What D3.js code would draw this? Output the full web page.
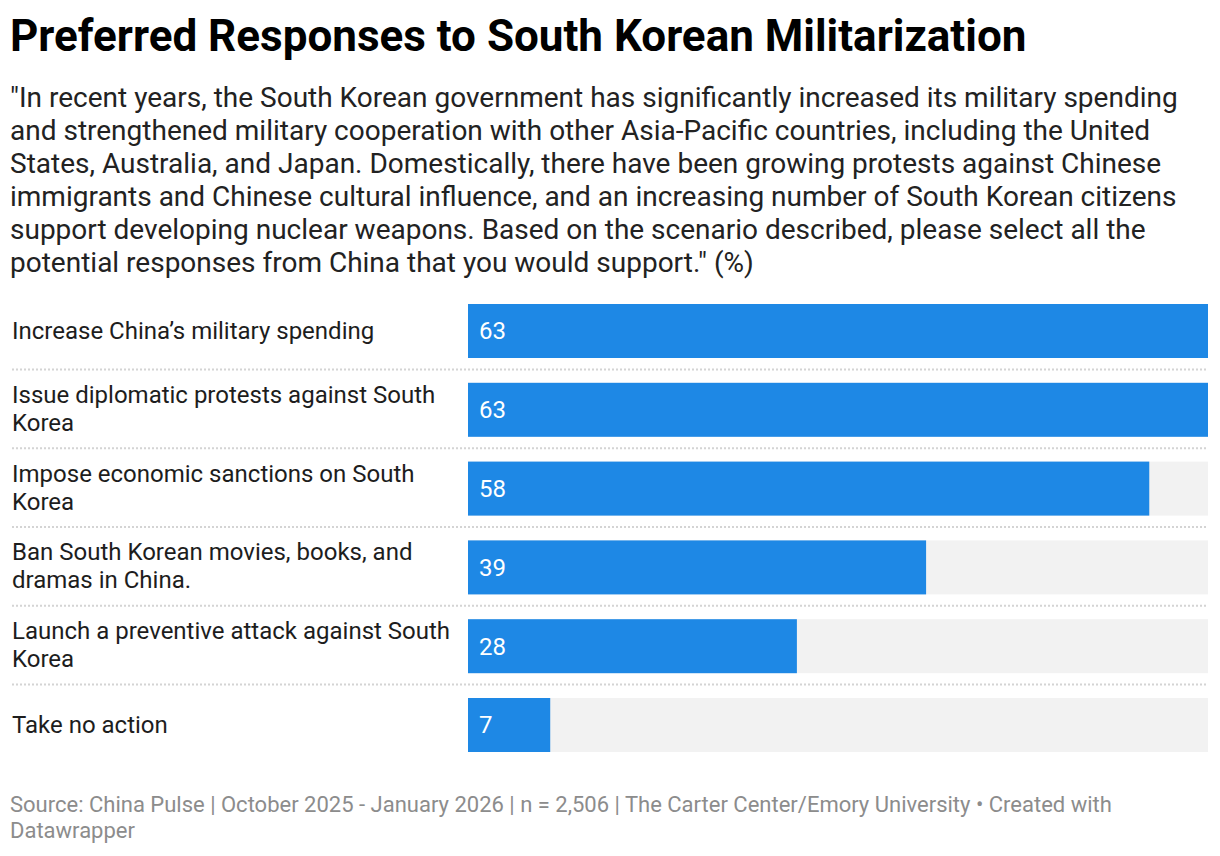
<!DOCTYPE html>
<html>
<head>
<meta charset="utf-8">
<script src="https://cdn.jsdelivr.net/npm/d3@7"></script>
<style>
  html, body { margin: 0; padding: 0; background: #fff; }
  svg { display: block; font-family: Roboto, "Noto Sans", sans-serif; }
</style>
</head>
<body>
<svg id="chart" width="1220" height="856"></svg>
<script>
const titleText = "Preferred Responses to South Korean Militarization";
const subtitleLines = [
  "\"In recent years, the South Korean government has significantly increased its military spending",
  "and strengthened military cooperation with other Asia-Pacific countries, including the United",
  "States, Australia, and Japan. Domestically, there have been growing protests against Chinese",
  "immigrants and Chinese cultural influence, and an increasing number of South Korean citizens",
  "support developing nuclear weapons. Based on the scenario described, please select all the",
  "potential responses from China that you would support.\" (%)"
];
const categories = [
  "Increase China\u2019s military spending",
  "Issue diplomatic protests against South Korea",
  "Impose economic sanctions on South Korea",
  "Ban South Korean movies, books, and dramas in China.",
  "Launch a preventive attack against South Korea",
  "Take no action"
];
const values = [63, 63, 58, 39, 28, 7];
const footerLines = [
  "Source: China Pulse | October 2025 - January 2026 | n = 2,506 | The Carter Center/Emory University \u2022 Created with",
  "Datawrapper"
];

const svg = d3.select("#chart");

svg.append("text")
  .attr("x", 10).attr("y", 51)
  .attr("font-size", 44).attr("font-weight", 700).attr("fill", "#000")
  .text(titleText);

svg.append("g").selectAll("text").data(subtitleLines).join("text")
  .attr("x", 10).attr("y", (d, i) => 107 + i * 33)
  .attr("font-size", 28).attr("fill", "#222")
  .text(d => d);

const x = d3.scaleLinear().domain([0, d3.max(values)]).range([468, 1208]);
const y = d3.scaleBand().domain(categories).range([304, 752]).paddingInner(0.3147).paddingOuter(0);

const rows = svg.append("g").selectAll("g").data(categories).join("g");

rows.append("rect")
  .attr("x", x(0)).attr("y", d => y(d))
  .attr("width", x.range()[1] - x(0)).attr("height", y.bandwidth())
  .attr("fill", "#f2f2f2");

rows.append("rect")
  .attr("x", x(0)).attr("y", d => y(d))
  .attr("width", (d, i) => x(values[i]) - x(0)).attr("height", y.bandwidth())
  .attr("fill", "#1e88e5");

rows.append("text")
  .attr("x", x(0) + 11).attr("y", d => y(d) + y.bandwidth() / 2)
  .attr("dy", "0.35em")
  .attr("font-size", 24).attr("fill", "#fff")
  .text((d, i) => values[i]);

const step = y.step();
svg.append("g").selectAll("line").data(categories.slice(0, -1)).join("line")
  .attr("x1", 12).attr("x2", 1208)
  .attr("y1", d => y(d) + y.bandwidth() + (step - y.bandwidth()) / 2 - 1)
  .attr("y2", d => y(d) + y.bandwidth() + (step - y.bandwidth()) / 2 - 1)
  .attr("stroke", "#d4d4d4").attr("stroke-width", 2).attr("stroke-dasharray", "2,2");

const maxW = 445;
const labels = rows.append("text")
  .attr("font-size", 24).attr("fill", "#1d1d1d");
labels.each(function(d) {
  const t = d3.select(this);
  const words = d.split(" ");
  const lines = [];
  let cur = [];
  const probe = t.append("tspan");
  for (const w of words) {
    const test = cur.concat([w]).join(" ");
    probe.text(test);
    if (probe.node().getComputedTextLength() > maxW && cur.length) {
      lines.push(cur.join(" "));
      cur = [w];
    } else {
      cur.push(w);
    }
  }
  if (cur.length) lines.push(cur.join(" "));
  probe.remove();
  const lh = 28;
  const cy = y(d) + y.bandwidth() / 2 - (lines.length > 1 ? 1.5 : 0);
  lines.forEach((ln, i) => {
    t.append("tspan")
      .attr("x", 12)
      .attr("y", cy + (i - (lines.length - 1) / 2) * lh)
      .attr("dy", "0.35em")
      .text(ln);
  });
});

svg.append("g").selectAll("text").data(footerLines).join("text")
  .attr("x", 10).attr("y", (d, i) => 812 + i * 26)
  .attr("font-size", 22).attr("fill", "#8c8c8c")
  .text(d => d);
</script>
</body>
</html>
